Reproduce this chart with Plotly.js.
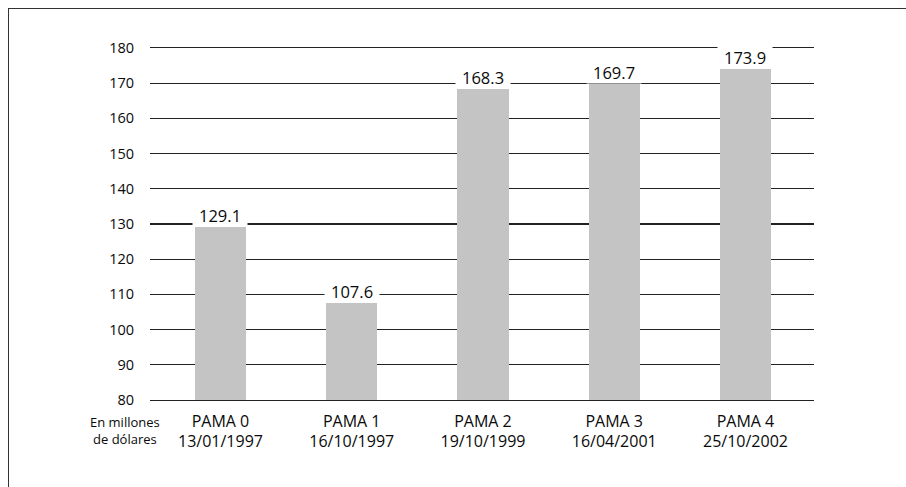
<!DOCTYPE html>
<html>
<head>
<meta charset="utf-8">
<script src="https://cdn.plot.ly/plotly-3.0.1.min.js"></script>
<style>
  html, body { margin: 0; padding: 0; background: #fff; }
  #wrap { position: relative; width: 906px; height: 487px; }
  #chart { width: 906px; height: 487px; }
  #frame {
    position: absolute; left: 8px; top: 8px; right: 0; bottom: 0;
    border-left: 1.5px solid #333; border-top: 1.5px solid #333;
    pointer-events: none;
  }
</style>
</head>
<body>
<div id="wrap">
  <div id="chart"></div>
  <div id="frame"></div>
</div>
<script>
// PAMA programmes and their amounts (millions of dollars)
const programmes = ['PAMA 0', 'PAMA 1', 'PAMA 2', 'PAMA 3', 'PAMA 4'];
const dates = ['13/01/1997', '16/10/1997', '19/10/1999', '16/04/2001', '25/10/2002'];
const amounts = [129.1, 107.6, 168.3, 169.7, 173.9];
const yTicks = [80, 90, 100, 110, 120, 130, 140, 150, 160, 170, 180];
const unitLabel = 'En millones<br>de dólares';

const FONT = 'Open Sans, Noto Sans, sans-serif';
const TEXT = '#0a0a0a';
const idx = programmes.map((_, i) => i);

const trace = {
  type: 'bar',
  x: idx,
  y: amounts,
  base: 0,
  width: 0.39,
  marker: { color: '#c4c4c4', line: { width: 0 } },
  hoverinfo: 'skip'
};

// a white patch over each bar top interrupts the gridlines behind the label
const labelPatches = amounts.map((v, i) => ({
  x: i, y: v, xref: 'x', yref: 'y',
  text: ' ', showarrow: false,
  xanchor: 'center', yanchor: 'bottom',
  width: 54, height: 24, borderpad: 0,
  bgcolor: '#ffffff'
}));

// the value itself, sitting just above the bar
const valueLabels = amounts.map((v, i) => ({
  x: i, y: v, xref: 'x', yref: 'y',
  text: v.toFixed(1), showarrow: false,
  xanchor: 'center', yanchor: 'bottom', yshift: -2,
  font: { family: FONT, size: 16.5, color: TEXT }
}));

const layout = {
  width: 906, height: 487,
  margin: { l: 150, r: 92, t: 48, b: 87 },
  paper_bgcolor: '#ffffff', plot_bgcolor: '#ffffff',
  showlegend: false,
  bargap: 0,
  xaxis: {
    range: [-0.537, 4.522],
    tickvals: idx,
    ticktext: programmes.map((p, i) => p + '<br>' + dates[i]),
    ticks: 'outside', ticklen: 6, tickcolor: 'rgba(0,0,0,0)',
    showgrid: false, zeroline: false,
    showline: true, mirror: true, linecolor: '#222', linewidth: 1.3,
    tickfont: { family: FONT, size: 16, color: TEXT },
    fixedrange: true
  },
  yaxis: {
    range: [80, 180],
    tickvals: yTicks,
    ticks: 'outside', ticklen: 12, tickcolor: 'rgba(0,0,0,0)',
    showgrid: true, gridcolor: '#222', gridwidth: 1.3,
    zeroline: false, showline: false,
    tickfont: { family: FONT, size: 14.5, color: TEXT },
    fixedrange: true
  },
  annotations: labelPatches.concat(valueLabels, [{
    xref: 'paper', yref: 'paper',
    x: -0.038, y: -0.088,
    xanchor: 'center', yanchor: 'middle',
    text: unitLabel, showarrow: false,
    font: { family: FONT, size: 13, color: TEXT }
  }])
};

Plotly.newPlot('chart', [trace], layout, { staticPlot: true, displayModeBar: false });
</script>
</body>
</html>
